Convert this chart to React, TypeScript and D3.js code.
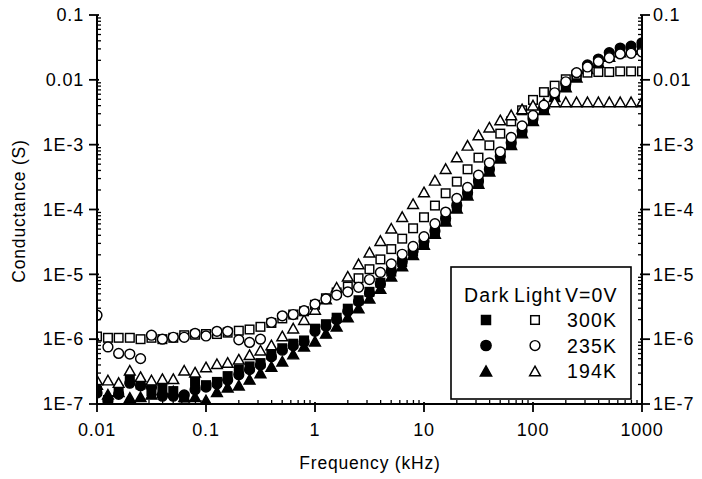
import React from "react";
import * as d3 from "d3";

const freqKHz = [
  0.01, 0.0126, 0.0158, 0.02, 0.0251, 0.0316, 0.0398, 0.0501, 0.0631, 0.0794,
  0.1, 0.126, 0.158, 0.2, 0.251, 0.316, 0.398, 0.501, 0.631, 0.794,
  1, 1.26, 1.58, 2, 2.51, 3.16, 3.98, 5.01, 6.31, 7.94,
  10, 12.6, 15.8, 20, 25.1, 31.6, 39.8, 50.1, 63.1, 79.4,
  100, 126, 158, 200, 251, 316, 398, 501, 631, 794, 1000,
];

const dark300K = [
  1.58e-7, 1.15e-7, 1.66e-7, 2.51e-7, 2.0e-7, 1.58e-7, 1.78e-7, 1.58e-7, 1.26e-7, 2.19e-7,
  1.95e-7, 2.19e-7, 2.69e-7, 3.39e-7, 3.8e-7, 4.27e-7, 5.75e-7, 7.24e-7, 8.51e-7, 9.55e-7,
  1.45e-6, 1.7e-6, 2.14e-6, 2.95e-6, 3.98e-6, 5.37e-6, 7.41e-6, 1.1e-5, 1.55e-5, 2.24e-5,
  3.16e-5, 4.57e-5, 7.08e-5, 1.1e-4, 1.74e-4, 2.63e-4, 3.98e-4, 6.31e-4, 1.0e-3, 1.55e-3,
  2.4e-3, 3.55e-3, 5.62e-3, 7.94e-3, 1.12e-2, 1.51e-2, 1.91e-2, 2.34e-2, 2.75e-2, 3.02e-2, 3.31e-2,
];
const dark235K = [
  1.48e-7, 1.12e-7, 1.41e-7, 2.09e-7, 1.91e-7, 1.82e-7, 1.32e-7, 1.32e-7, 1.38e-7, 1.66e-7,
  1.82e-7, 2.04e-7, 2.34e-7, 2.82e-7, 3.39e-7, 3.98e-7, 5.37e-7, 6.76e-7, 7.94e-7, 9.12e-7,
  1.32e-6, 1.58e-6, 2.0e-6, 2.69e-6, 3.8e-6, 5.13e-6, 7.08e-6, 1.12e-5, 1.58e-5, 2.29e-5,
  3.24e-5, 4.68e-5, 7.24e-5, 1.15e-4, 1.82e-4, 2.75e-4, 4.17e-4, 6.61e-4, 1.07e-3, 1.62e-3,
  2.51e-3, 3.72e-3, 6.17e-3, 8.71e-3, 1.23e-2, 1.7e-2, 2.09e-2, 2.63e-2, 3.09e-2, 3.31e-2, 3.72e-2,
];
const dark194K = [
  2.0e-7, 1.41e-7, 1.55e-7, 1.26e-7, 1.29e-7, 1.41e-7, 1.66e-7, 1.58e-7, 1.29e-7, 1.29e-7,
  1.15e-7, 1.55e-7, 1.82e-7, 1.95e-7, 2.4e-7, 3.02e-7, 3.8e-7, 4.57e-7, 5.89e-7, 7.76e-7,
  9.33e-7, 1.23e-6, 1.58e-6, 2.19e-6, 3.02e-6, 4.27e-6, 6.03e-6, 9.33e-6, 1.35e-5, 2.0e-5,
  2.88e-5, 4.27e-5, 6.61e-5, 1.05e-4, 1.66e-4, 2.51e-4, 3.89e-4, 6.17e-4, 1.0e-3, 1.51e-3,
  2.34e-3, 3.47e-3, 5.5e-3, 7.76e-3, 1.1e-2, 1.48e-2, 1.86e-2, 2.29e-2, 2.69e-2, 2.95e-2, 3.24e-2,
];
const light300K = [
  1.1e-6, 1.05e-6, 1.05e-6, 1.05e-6, 1.0e-6, 1.05e-6, 1.0e-6, 1.05e-6, 1.15e-6, 1.17e-6,
  1.2e-6, 1.2e-6, 1.26e-6, 1.35e-6, 1.41e-6, 1.55e-6, 1.78e-6, 2.09e-6, 2.4e-6, 2.69e-6,
  3.39e-6, 4.27e-6, 5.25e-6, 6.46e-6, 8.71e-6, 1.2e-5, 1.7e-5, 2.45e-5, 3.55e-5, 5.13e-5,
  7.59e-5, 1.15e-4, 1.78e-4, 2.69e-4, 4.17e-4, 6.31e-4, 9.77e-4, 1.48e-3, 2.29e-3, 3.39e-3,
  4.9e-3, 6.46e-3, 8.13e-3, 1.02e-2, 1.2e-2, 1.29e-2, 1.32e-2, 1.32e-2, 1.35e-2, 1.35e-2, 1.35e-2,
];
const light235K = [
  2.34e-6, 7.59e-7, 6.03e-7, 5.89e-7, 5.01e-7, 1.15e-6, 1.0e-6, 1.07e-6, 1.07e-6, 1.23e-6,
  1.12e-6, 1.32e-6, 1.32e-6, 9.77e-7, 8.91e-7, 1.0e-6, 1.82e-6, 2.29e-6, 2.4e-6, 2.75e-6,
  3.47e-6, 4.17e-6, 4.79e-6, 5.37e-6, 6.31e-6, 8.32e-6, 1.07e-5, 1.45e-5, 2.04e-5, 2.69e-5,
  3.8e-5, 6.03e-5, 9.12e-5, 1.48e-4, 2.19e-4, 3.39e-4, 5.25e-4, 7.76e-4, 1.29e-3, 1.95e-3,
  2.82e-3, 4.07e-3, 6.31e-3, 9.33e-3, 1.29e-2, 1.58e-2, 1.91e-2, 2.19e-2, 2.51e-2, 2.57e-2, 2.69e-2,
];
const light194K = [
  2.34e-7, 2.34e-7, 2.14e-7, 3.31e-7, 2.63e-7, 2.34e-7, 2.45e-7, 2.45e-7, 3.31e-7, 3.09e-7,
  3.72e-7, 4.17e-7, 4.37e-7, 4.9e-7, 5.75e-7, 6.76e-7, 8.13e-7, 1.12e-6, 1.48e-6, 2.0e-6,
  2.88e-6, 4.17e-6, 6.31e-6, 9.33e-6, 1.45e-5, 2.19e-5, 3.31e-5, 5.13e-5, 7.76e-5, 1.23e-4,
  1.86e-4, 2.82e-4, 4.27e-4, 6.46e-4, 9.77e-4, 1.41e-3, 1.86e-3, 2.4e-3, 2.88e-3, 3.55e-3,
  4.07e-3, 4.37e-3, 4.57e-3, 4.57e-3, 4.57e-3, 4.57e-3, 4.57e-3, 4.57e-3, 4.57e-3, 4.57e-3, 4.57e-3,
];

const yTickValues = [1e-7, 1e-6, 1e-5, 1e-4, 1e-3, 1e-2, 1e-1];
const yTickLabels = ["1E-7", "1E-6", "1E-5", "1E-4", "1E-3", "0.01", "0.1"];
const xTickValues = [0.01, 0.1, 1, 10, 100, 1000];
const xTickLabels = ["0.01", "0.1", "1", "10", "100", "1000"];
const legendTemps = ["300K", "235K", "194K"];

const W = 702;
const H = 479;
const L = 97, R = 642, T = 15, B = 404;
const FONT = "'Liberation Sans', Arial, Helvetica, sans-serif";

type Shape = "square" | "circle" | "triangle";

function Marker({ shape, x, y, filled, s = 1 }: { shape: Shape; x: number; y: number; filled: boolean; s?: number }) {
  const fill = filled ? "#000" : "#fff";
  const sw = 1.45;
  if (shape === "square") {
    const h = 4.3 * s;
    return <rect x={x - h} y={y - h} width={2 * h} height={2 * h} fill={fill} stroke="#000" strokeWidth={sw} />;
  }
  if (shape === "circle") {
    return <circle cx={x} cy={y} r={4.9 * s} fill={fill} stroke="#000" strokeWidth={sw} />;
  }
  const hw = 5.4 * s;
  const hh = 4.8 * s;
  const p = `M${x},${y - hh}L${x + hw},${y + hh}L${x - hw},${y + hh}Z`;
  return <path d={p} fill={fill} stroke="#000" strokeWidth={sw} strokeLinejoin="miter" />;
}

export default function App() {
  const x = d3.scaleLog().domain([0.01, 1000]).range([L, R]);
  const y = d3.scaleLog().domain([1e-7, 0.1]).range([B, T]);

  const series: { data: number[]; shape: Shape; filled: boolean }[] = [
    { data: dark194K, shape: "triangle", filled: true },
    { data: dark300K, shape: "square", filled: true },
    { data: dark235K, shape: "circle", filled: true },
    { data: light300K, shape: "square", filled: false },
    { data: light194K, shape: "triangle", filled: false },
    { data: light235K, shape: "circle", filled: false },
  ];

  const xMinor: number[] = [];
  for (let e = -2; e < 3; e++) for (let m = 2; m <= 9; m++) xMinor.push(m * Math.pow(10, e));
  const yMinor: number[] = [];
  for (let e = -7; e < -1; e++) for (let m = 2; m <= 9; m++) yMinor.push(m * Math.pow(10, e));

  const txt = { fontFamily: FONT, fontSize: 18, letterSpacing: 0.8, fill: "#000" } as const;
  const lgTxt = { fontFamily: FONT, fontSize: 19.5, letterSpacing: 1.1, fill: "#000" } as const;

  return (
    <svg width={W} height={H} style={{ position: "absolute", left: 0, top: 0, background: "#fff" }}>
      <rect x={0} y={0} width={W} height={H} fill="#fff" />
      <defs>
        <clipPath id="plotclip">
          <rect x={L} y={T - 10} width={R - L} height={B - T + 10} />
        </clipPath>
      </defs>
      <g clipPath="url(#plotclip)">
        {series.map((s, si) =>
          s.data.map((v, i) => (
            <Marker key={`${si}-${i}`} shape={s.shape} x={x(freqKHz[i])} y={y(v)} filled={s.filled} />
          ))
        )}
      </g>

      {/* axes lines */}
      <line x1={L} y1={T} x2={L} y2={B} stroke="#000" strokeWidth={2} />
      <line x1={R} y1={T} x2={R} y2={B} stroke="#000" strokeWidth={2} />
      <line x1={L} y1={B} x2={R} y2={B} stroke="#000" strokeWidth={2} />

      {/* y ticks */}
      {yTickValues.map((v, i) => (
        <g key={`yt${i}`}>
          <line x1={L - 8} x2={L + 2} y1={y(v)} y2={y(v)} stroke="#000" strokeWidth={1.8} />
          <line x1={R - 2} x2={R + 8} y1={y(v)} y2={y(v)} stroke="#000" strokeWidth={1.8} />
          <text x={L - 13} y={y(v)} dy="0.35em" textAnchor="end" {...txt}>{yTickLabels[i]}</text>
          <text x={R + 11} y={y(v)} dy="0.35em" textAnchor="start" {...txt}>{yTickLabels[i]}</text>
        </g>
      ))}
      {yMinor.map((v, i) => (
        <g key={`ym${i}`}>
          <line x1={L} x2={L + 4} y1={y(v)} y2={y(v)} stroke="#000" strokeWidth={1.3} />
          <line x1={R - 4} x2={R} y1={y(v)} y2={y(v)} stroke="#000" strokeWidth={1.3} />
        </g>
      ))}

      {/* x ticks */}
      {xTickValues.map((v, i) => (
        <g key={`xt${i}`}>
          <line x1={x(v)} x2={x(v)} y1={B - 2} y2={B + 8} stroke="#000" strokeWidth={1.8} />
          <text x={x(v)} y={436} textAnchor="middle" {...txt}>{xTickLabels[i]}</text>
        </g>
      ))}
      {xMinor.map((v, i) => (
        <line key={`xm${i}`} x1={x(v)} x2={x(v)} y1={B - 4} y2={B} stroke="#000" strokeWidth={1.3} />
      ))}

      {/* axis titles */}
      <text x={370} y={469} textAnchor="middle" {...txt} fontSize={17.5}>Frequency (kHz)</text>
      <text transform="translate(25,211) rotate(-90)" textAnchor="middle" {...txt} fontSize={17.5}>Conductance (S)</text>

      {/* legend */}
      <rect x={451} y={267} width={180} height={132} fill="#fff" stroke="#000" strokeWidth={1.6} />
      <text x={464} y={302} {...lgTxt}>Dark</text>
      <text x={514} y={302} {...lgTxt}>Light</text>
      <text x={565} y={302} {...lgTxt}>V=0V</text>
      {legendTemps.map((t, i) => {
        const cy = 320 + i * 25.5;
        const shape: Shape = i === 0 ? "square" : i === 1 ? "circle" : "triangle";
        return (
          <g key={`lg${i}`}>
            <Marker shape={shape} x={486} y={cy} filled={true} s={1.05} />
            <Marker shape={shape} x={535} y={cy} filled={false} s={1.0} />
            <text x={617} y={cy} dy="0.36em" textAnchor="end" {...lgTxt}>{t}</text>
          </g>
        );
      })}
    </svg>
  );
}
